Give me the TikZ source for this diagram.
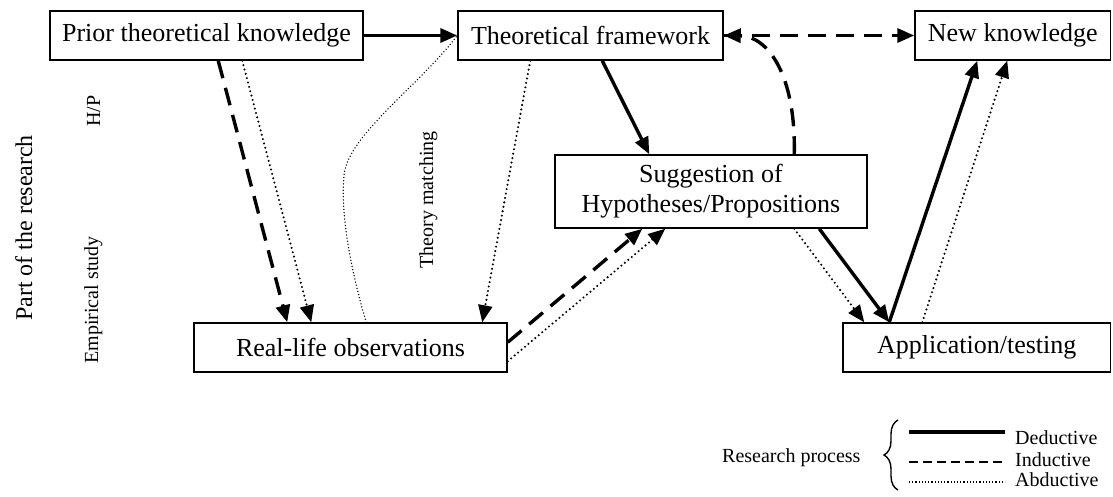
\documentclass[tikz,border=0pt]{standalone}
\usepackage{fontspec}
\setmainfont{Liberation Serif}
\usetikzlibrary{arrows.meta,decorations.pathreplacing}

\begin{document}
\begin{tikzpicture}[x=1pt,y=-1pt,
  box/.style={draw, line width=1.5pt, inner sep=0pt, align=center,
    font=\fontsize{26}{30}\selectfont},
  tip/.style={-{Triangle[length=17pt,width=14pt]}},
  deduct/.style={line width=3.4pt, tip},
  induct/.style={line width=3.4pt, dash pattern=on 18pt off 10pt, tip},
  abduct/.style={line width=2.3pt, dash pattern=on 0pt off 4.5pt, line cap=round, tip},
  matchline/.style={line width=1.5pt, dash pattern=on 0pt off 3.2pt, line cap=round},
  lab/.style={inner sep=0pt, font=\fontsize{20}{24}\selectfont},
]
\useasboundingbox (0,0) rectangle (1113,496);

% boxes
\node[box, minimum width=313pt, minimum height=49pt] (prior) at (206.5,35.5) {Prior theoretical knowledge};
\node[box, minimum width=265pt, minimum height=49pt] (frame) at (590.5,35.5) {Theoretical framework};
\node[box, minimum width=195.5pt, minimum height=49pt] (newk) at (1012.75,35.5) {New knowledge};
\node[box, minimum width=312pt, minimum height=73pt] (sug) at (711,191.5) {Suggestion of\\Hypotheses/Propositions};
\node[box, minimum width=313pt, minimum height=49pt] (real) at (350.5,347.5) {Real-life observations};
\node[box, minimum width=267.5pt, minimum height=49pt] (app) at (976.75,347.5) {Application/testing};

% side labels
\node[lab, font=\fontsize{24}{28}\selectfont, rotate=90, anchor=base] (part) at (32,228) {Part of the research};
\node[lab, rotate=90, anchor=base] (hp) at (100,111) {H/P};
\node[lab, rotate=90, anchor=base] (emp) at (98,300) {Empirical study};
\node[lab, rotate=90, anchor=base] (tm) at (433,200) {Theory matching};

% theory matching link
\draw[matchline] ([xshift=173pt]real.north west) .. controls (352,275) and (340,215) .. (344,175)
  .. controls (348,135) and (420,85) .. (frame.west);

% connectors
\draw[deduct] (prior.east) -- (frame.west);
\draw[induct] ([xshift=169pt]prior.south west) -- ([xshift=94pt]real.north west);
\draw[abduct] ([xshift=193pt]prior.south west) -- ([xshift=118pt]real.north west);
\draw[induct] (frame.east) -- (newk.west);
\draw[deduct] ([xshift=145pt]frame.south west) -- ([xshift=95pt]sug.north west);
\draw[abduct] ([xshift=73pt]frame.south west) -- ([xshift=289pt]real.north west);
\draw[induct] ([xshift=240pt]sug.north west) .. controls (796,75) and (768,36) .. (frame.east);
\draw[induct] ([yshift=-20pt]real.north east) -- ([xshift=88pt]sug.south west);
\draw[abduct] ([yshift=-39pt]real.north east) -- ([xshift=111pt]sug.south west);
\draw[abduct] ([xshift=240pt]sug.south west) -- ([xshift=22pt]app.north west);
\draw[deduct] ([xshift=265pt]sug.south west) -- ([xshift=47pt]app.north west);
\draw[deduct] ([xshift=47pt]app.north west) -- ([xshift=63pt]newk.south west);
\draw[abduct] ([xshift=80pt]app.north west) -- ([xshift=93pt]newk.south west);

% legend
\node[lab, anchor=base west] (rp) at (722,462) {Research process};
\coordinate (bb) at (898,490);
\coordinate (bt) at (898,420);
\draw[line width=1.4pt, decorate, decoration={brace, amplitude=14pt}] (bb) -- (bt);
\coordinate (d1) at (909,432); \coordinate (d2) at (1005,432);
\coordinate (i1) at (909,462); \coordinate (i2) at (1005,462);
\coordinate (a1) at (909,482); \coordinate (a2) at (1005,482);
\draw[line width=3.4pt] (d1) -- (d2);
\draw[line width=1.5pt, dash pattern=on 9pt off 5pt] (i1) -- (i2);
\draw[line width=1.2pt, dash pattern=on 1.2pt off 2pt] (a1) -- (a2);
\node[lab, anchor=base west] (ld) at (1015,444) {Deductive};
\node[lab, anchor=base west] (li) at (1015,466) {Inductive};
\node[lab, anchor=base west] (la) at (1015,486) {Abductive};
\end{tikzpicture}
\end{document}
